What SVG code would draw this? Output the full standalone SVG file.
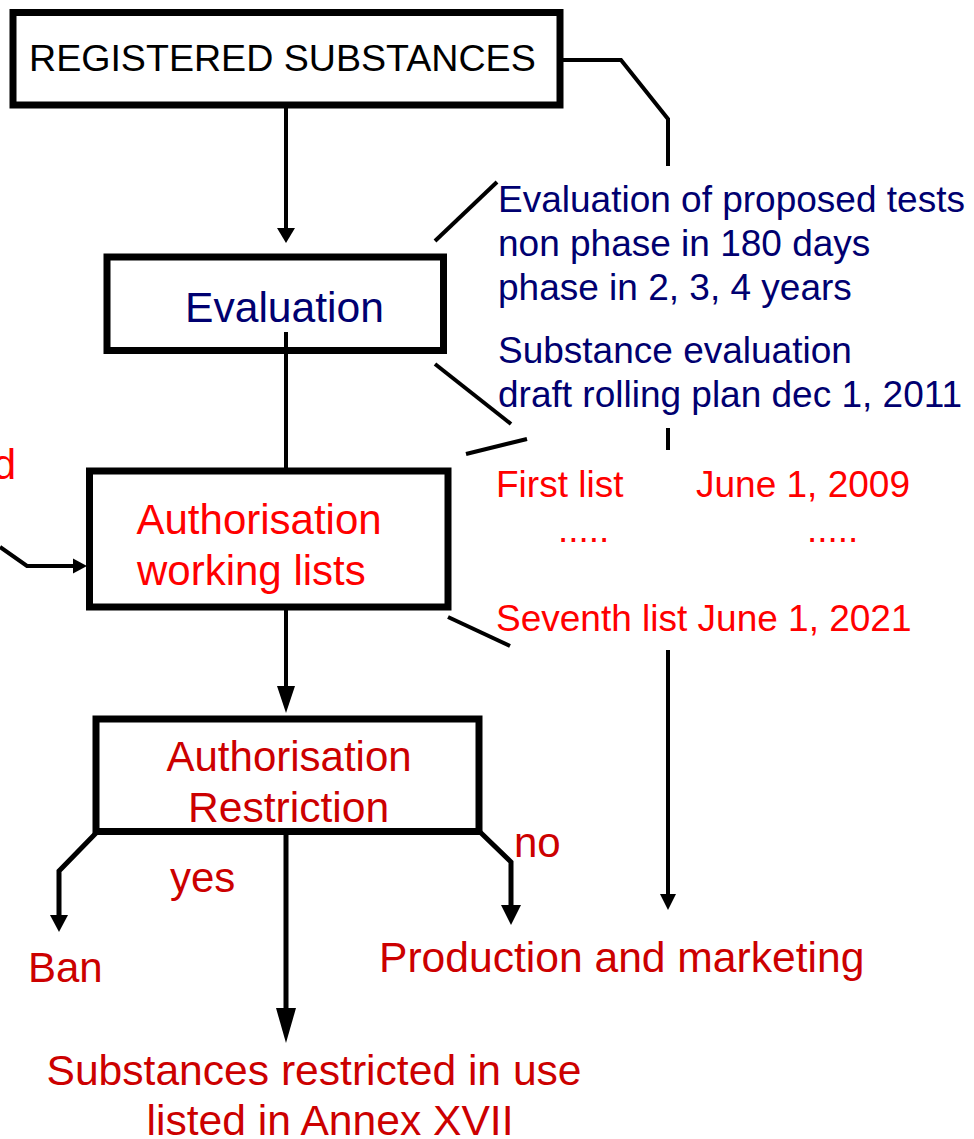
<svg xmlns="http://www.w3.org/2000/svg" width="974" height="1139" viewBox="0 0 974 1139">
  <style>
    .box { fill: #ffffff; stroke: #000000; stroke-width: 7; }
    .ln { fill: none; stroke: #000000; stroke-width: 4; stroke-linejoin: miter; }
    .lnb { fill: none; stroke: #000000; stroke-width: 5; stroke-linejoin: miter; }
    .head { fill: #000000; stroke: none; }
    text { font-family: "Liberation Sans", Arial, sans-serif; }
    .blk { fill: #000000; font-size: 37.6px; }
    .navy { fill: #000070; }
    .red { fill: #ff0000; }
    .dred { fill: #cc0000; }
    .s37 { font-size: 37px; }
    .s42 { font-size: 42px; }
    .s43 { font-size: 42.6px; }
  </style>

  <rect width="974" height="1139" fill="#ffffff"/>

  <!-- connectors -->
  <g id="connectors">
    <!-- registered substances -> evaluation -->
    <line class="ln" x1="286" y1="108" x2="286" y2="230"/>
    <polygon class="head" points="277,228 295,228 286,243"/>
    <!-- registered substances -> production branch on the right -->
    <polyline class="ln" points="562,60 621,60 668,119 668,166"/>
    <!-- callout strokes around the evaluation notes -->
    <line class="ln" x1="435" y1="241" x2="497" y2="182"/>
    <line class="ln" x1="435" y1="364" x2="511" y2="424"/>
    <line class="ln" x1="466" y1="454" x2="527" y2="439"/>
    <line class="ln" x1="668" y1="428" x2="668" y2="450"/>
    <!-- evaluation -> authorisation working lists -->
    <line class="ln" x1="286" y1="332" x2="286" y2="471"/>
    <!-- incoming arrow from the left -->
    <polyline class="ln" points="0,547 27,566 75,566"/>
    <polygon class="head" points="73,558.5 73,573.5 87,566"/>
    <!-- callout stroke to the seventh list -->
    <line class="ln" x1="448" y1="617" x2="510" y2="646"/>
    <!-- working lists -> restriction -->
    <line class="ln" x1="286" y1="610" x2="286" y2="690"/>
    <polygon class="head" points="277,686 295,686 286,713"/>
    <!-- right hand line down to production and marketing -->
    <line class="ln" x1="668" y1="650" x2="668" y2="896"/>
    <polygon class="head" points="660,894 676,894 668,910"/>
    <!-- restriction -> ban -->
    <polyline class="lnb" points="98,831 59,871 59,918"/>
    <polygon class="head" points="50,915 68,915 59,932"/>
    <!-- restriction -> substances restricted in use -->
    <line class="lnb" x1="286" y1="831" x2="286" y2="1012"/>
    <polygon class="head" points="276,1008 296,1008 286,1043"/>
    <!-- restriction -> production and marketing -->
    <polyline class="lnb" points="479,831 511,862 511,908"/>
    <polygon class="head" points="501,905 521,905 511,925"/>
  </g>

  <g id="registered">
    <rect class="box" x="13" y="12.5" width="547" height="92.5"/>
    <text class="blk" x="29" y="70.5">REGISTERED SUBSTANCES</text>
  </g>

  <g id="evaluation">
    <rect class="box" x="107" y="257" width="336.5" height="93.5"/>
    <line class="ln" x1="286" y1="332" x2="286" y2="354"/>
    <text class="navy s43" x="185" y="321.5">Evaluation</text>
  </g>

  <g id="evaluation-notes" class="navy s37">
    <text x="498" y="211.5">Evaluation of proposed tests</text>
    <text x="498" y="256">non phase in 180 days</text>
    <text x="498" y="300">phase in 2, 3, 4 years</text>
    <text x="498" y="363">Substance evaluation</text>
    <text x="498" y="407">draft rolling plan dec 1, 2011</text>
  </g>

  <g id="working-lists">
    <rect class="box" x="89.5" y="471" width="358.5" height="136"/>
    <text class="red s42" x="136.5" y="534">Authorisation</text>
    <text class="red s42" x="137" y="585">working lists</text>
  </g>

  <g id="incoming-label">
    <text class="red s42" x="16" y="479" text-anchor="end">d</text>
  </g>

  <g id="list-dates" class="red s37">
    <text x="496" y="496.5">First list</text>
    <text x="696" y="496.5">June 1, 2009</text>
    <text x="558" y="541.5">.....</text>
    <text x="807" y="541.5">.....</text>
    <text x="496" y="630.5">Seventh list June 1, 2021</text>
  </g>

  <g id="restriction">
    <rect class="box" x="96" y="719" width="383" height="112.5"/>
    <text class="dred s42" x="166.5" y="770.5">Authorisation</text>
    <text class="dred s43" x="188" y="821.5">Restriction</text>
  </g>

  <g id="branch-labels" class="dred s42">
    <text x="170" y="891.5">yes</text>
    <text x="514" y="857">no</text>
  </g>

  <g id="ban">
    <text class="dred s42" x="28" y="981.5">Ban</text>
  </g>

  <g id="production">
    <text class="dred s43" x="379" y="971.5">Production and marketing</text>
  </g>

  <g id="annex">
    <text class="dred s43" x="46.5" y="1085">Substances restricted in use</text>
    <text class="dred s43" x="146.5" y="1135">listed in Annex XVII</text>
  </g>
</svg>
